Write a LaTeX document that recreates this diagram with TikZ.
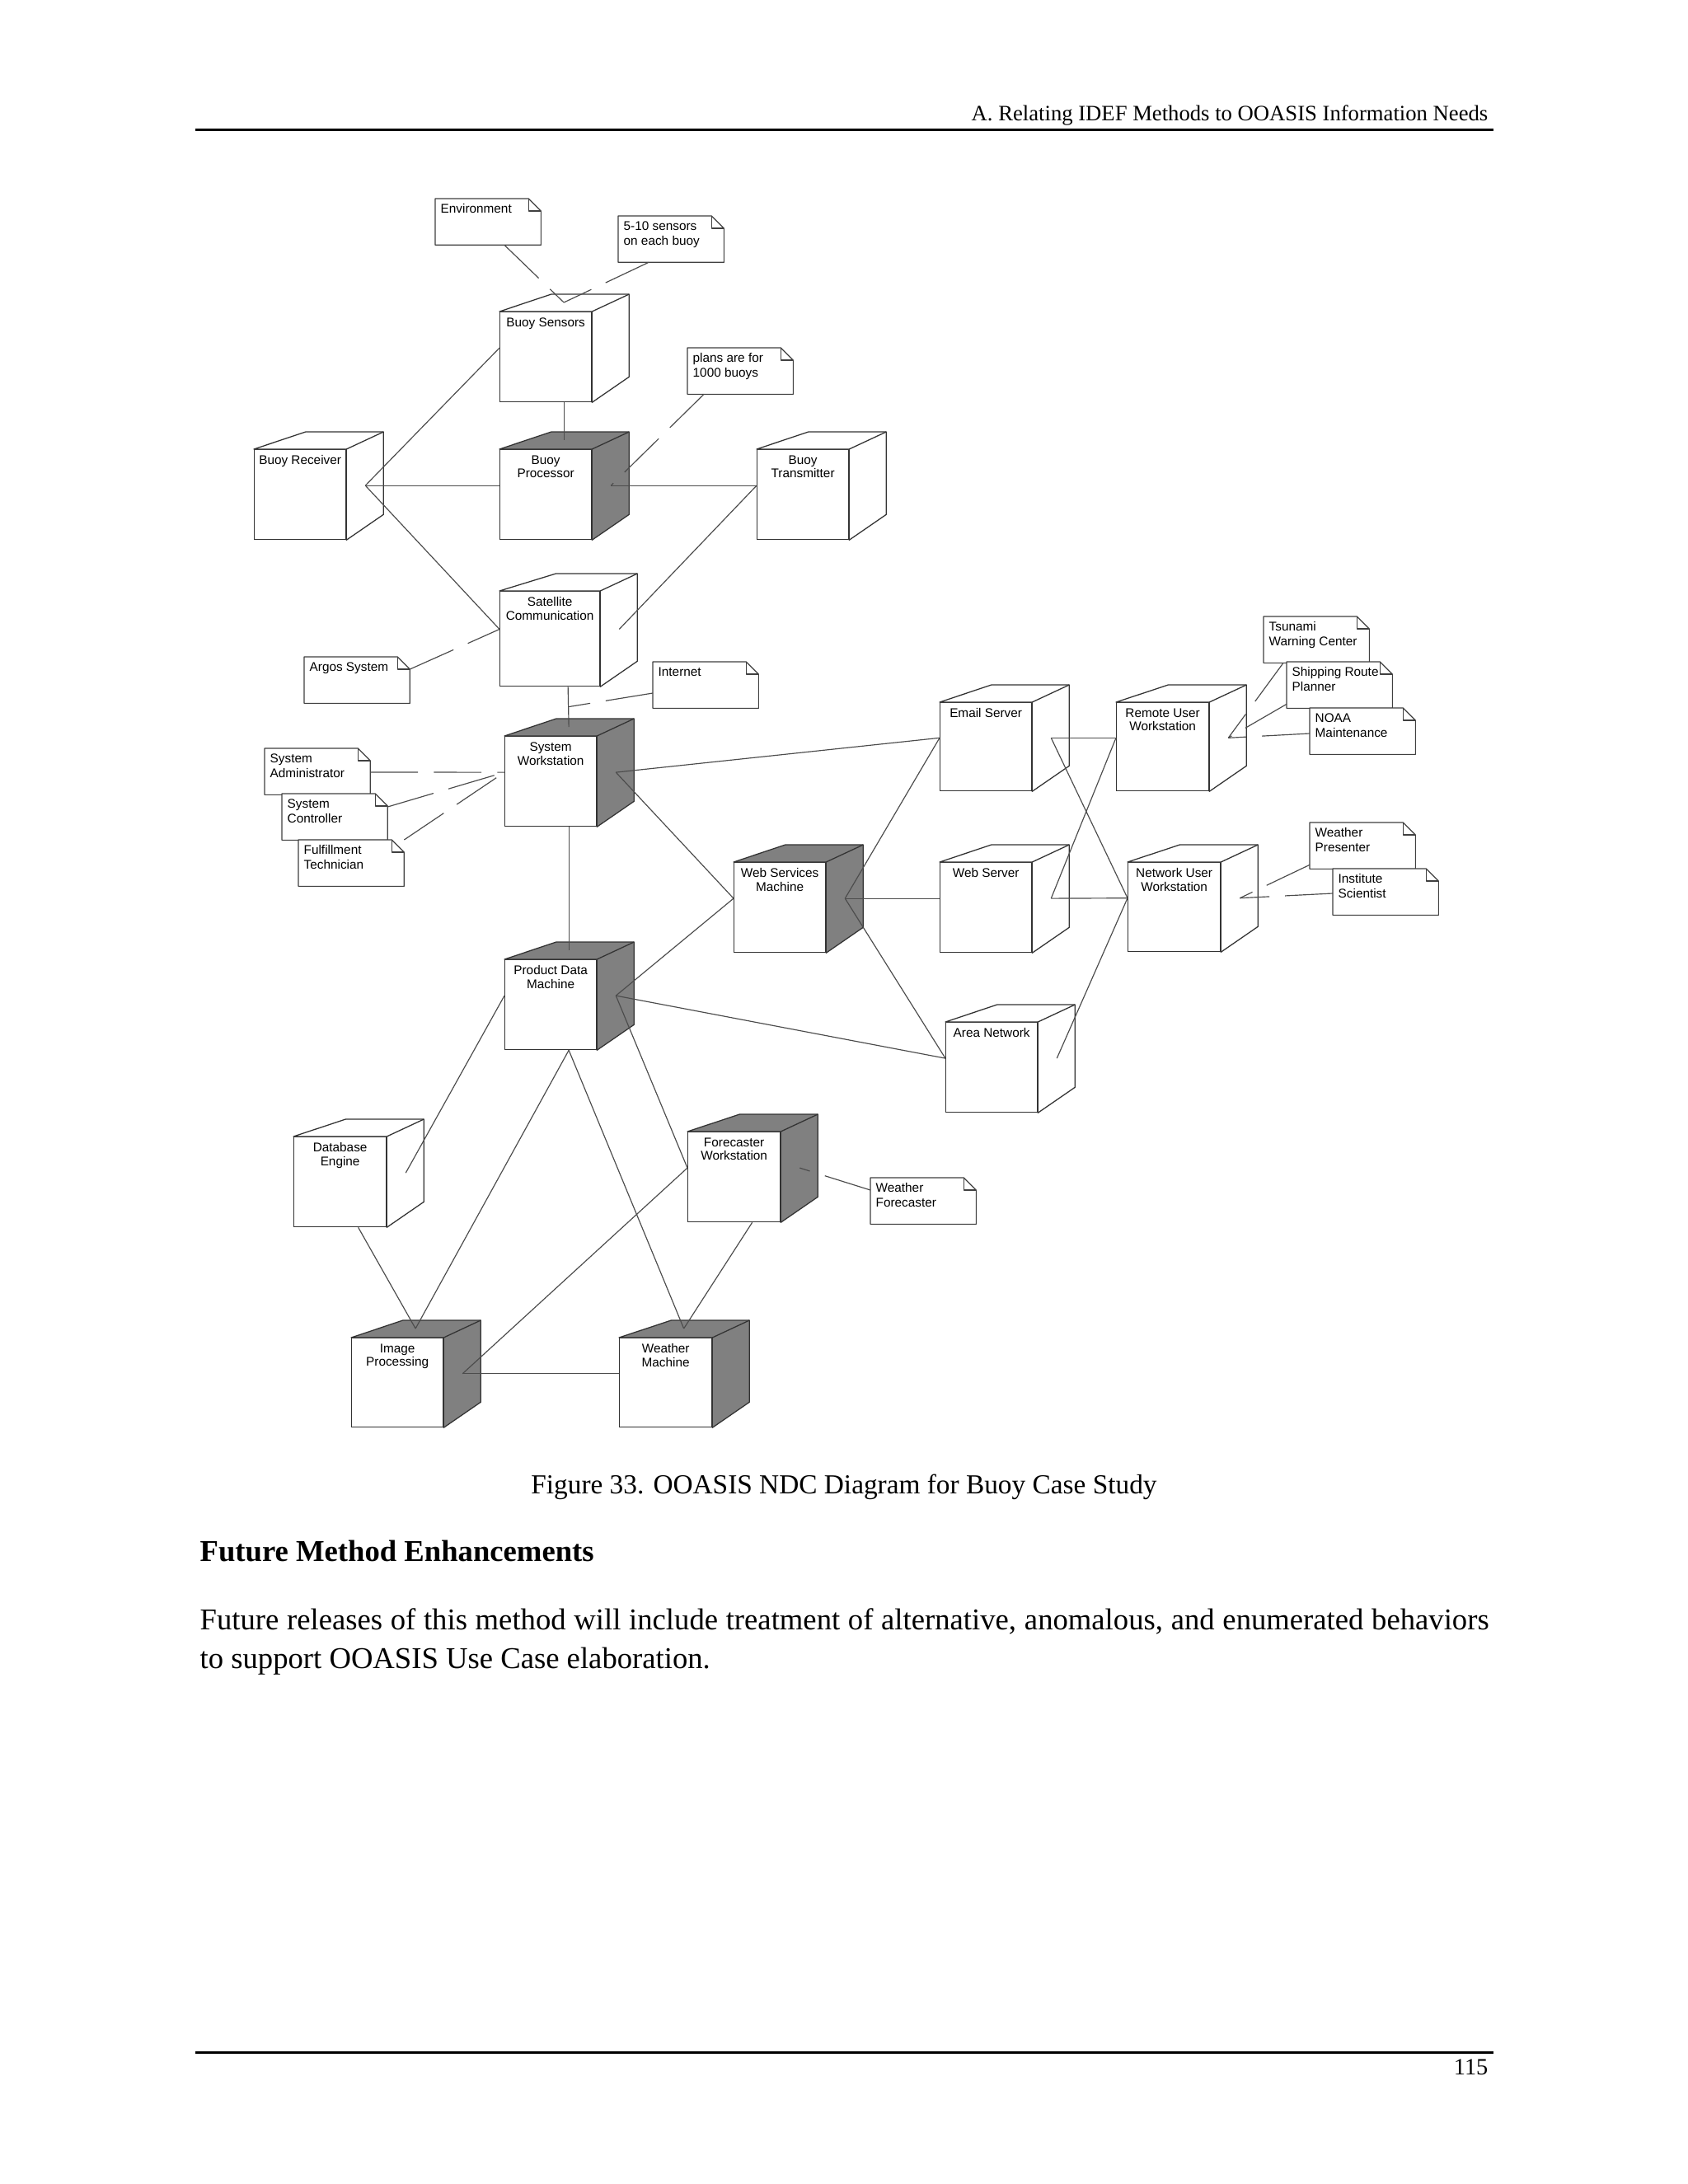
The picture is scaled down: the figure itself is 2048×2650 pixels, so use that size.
\documentclass[tikz,border=0pt]{standalone}
\usepackage{fontspec}
\setmainfont{Liberation Serif}
\newfontfamily\arialfont{Liberation Sans}
\usetikzlibrary{positioning, calc}

\begin{document}
\begin{tikzpicture}[
    x=0.29887bp, y=-0.29887bp,
    front/.style={rectangle, draw=black!80, line width=0.38bp, fill=white, anchor=north west, inner sep=0pt},
    face/.style={draw=black!80, line width=0.38bp, line join=round},
    cubetext/.style={inner sep=0pt, align=center, font=\arialfont\fontsize{4.6}{5}\selectfont},
    notebox/.style={rectangle, anchor=north west, inner sep=0pt, minimum width=37.96bp, minimum height=16.44bp},
    noteedge/.style={draw=black!75, line width=0.36bp, fill=white, line join=round},
    notetext/.style={inner sep=0pt, align=left, font=\arialfont\fontsize{4.6}{5.3}\selectfont},
    link/.style={draw=black!70, line width=0.35bp},
    noteline/.style={draw=black!70, line width=0.35bp, dash pattern=on 17.3bp off 5.7bp}
]
\fill[white] (0,0) rectangle (2048,2650);
\useasboundingbox (0,0) rectangle (2048,2650);

\node[anchor=base east, inner sep=0pt, font=\fontsize{8}{9.6}\selectfont] (head) at (1806,146) {A. Relating IDEF Methods to OOASIS Information Needs};
\draw[line width=0.9bp] (237,157) -- (1812,157);

\foreach \n/\x/\y/\cw/\ch/\lbl/\fc in {
    BS/606/378/111/109/{Buoy Sensors}/white,
    BR/308/545/111/109/{Buoy Receiver}/white,
    BP/606/545/111/109/{Buoy\\Processor}/black!50,
    BT/918/545/111/109/{Buoy\\Transmitter}/white,
    SC/606/717/121/115/{Satellite\\Communication}/white,
    SW/612/893/111/109/{System\\Workstation}/black!50,
    WS/890/1046/111/109/{Web Services\\Machine}/black!50,
    PD/612/1164/111/109/{Product Data\\Machine}/black!50,
    ES/1140/852/111/107/{Email Server}/white,
    RU/1354/852/112/107/{Remote User\\Workstation}/white,
    WB/1140/1046/111/109/{Web Server}/white,
    NU/1368/1046/112/108/{Network User\\Workstation}/white,
    AN/1147/1240/111/109/{Area Network}/white,
    DB/356/1379/112/109/{Database\\Engine}/white,
    FW/834/1373/112/109/{Forecaster\\Workstation}/black!50,
    IP/426/1623/111/108/{Image\\Processing}/black!50,
    WM/751/1623/112/108/{Weather\\Machine}/black!50} {
    \node[front, minimum width=\cw*0.29887bp, minimum height=\ch*0.29887bp] (\n) at (\x,\y) {};
    \filldraw[face, fill=\fc] (\n.north west) -- ($(\n.north west)!0.56!(\n.north east)+(0,-21)$)
        -- ($(\n.north east)+(45,-21)$) -- ($(\n.south east)+(45,-31)$) -- (\n.south east) -- (\n.north east) -- cycle;
    \draw[face] (\n.north east) -- ($(\n.north east)+(45,-21)$);
    \node[cubetext, below=2.1bp of \n.north] (\n-txt) {\lbl};
    \coordinate (\n-l) at ($(\n.north west)!0.4!(\n.south west)$);
    \coordinate (\n-h) at ($(\n.north east)!0.4!(\n.south east)+(23,0)$);
    \coordinate (\n-t) at ($(\n.north west)!0.5!(\n.north east)+(22,-11)$);
    \coordinate (\n-b) at ($(\n.south west)!0.5!(\n.south east)+(22,0)$);
}

\foreach \n/\x/\y/\lbl in {
    env/528/241/Environment,
    sens/750/262/{5-10 sensors\\on each buoy},
    plans/834/422/{plans are for\\1000 buoys},
    argos/369/797/{Argos System},
    inet/792/803/Internet,
    admin/321/908/{System\\Administrator},
    ctrl/342/963/{System\\Controller},
    fulf/362/1019/{Fulfillment\\Technician},
    tsu/1533/748/{Tsunami\\Warning Center},
    ship/1561/803/{Shipping Route\\Planner},
    noaa/1589/859/{NOAA\\Maintenance},
    wpres/1589/998/{Weather\\Presenter},
    inst/1617/1054/{Institute\\Scientist},
    wfc/1056/1429/{Weather\\Forecaster}} {
    \node[notebox] (\n) at (\x,\y) {};
    \filldraw[noteedge] (\n.north west) -- ($(\n.north east)+(-15,0)$) -- ($(\n.north east)+(0,15)$)
        -- (\n.south east) -- (\n.south west) -- cycle;
    \draw[noteedge, fill=none] ($(\n.north east)+(-15,0)$) |- ($(\n.north east)+(0,15)$);
    \node[notetext, below right=1.8bp and 1.8bp of \n.north west] (\n-txt) {\lbl};
}

\foreach \a/\b in {BR-h/BS-l, BR-h/BP-l, BR-h/SC-l, BS-b/BP-t, BP-h/BT-l, BT-l/SC-h,
    SC-b/SW-t, SW-b/PD-t, SW-h/ES-l, SW-h/WS-l, WS-l/PD-h, WS-h/ES-l, WS-h/WB-l,
    WS-h/AN-l, PD-h/AN-l, ES-h/RU-l, ES-h/NU-l, WB-h/RU-l, WB-h/NU-l, NU-l/AN-h,
    PD-l/DB-h, PD-h/FW-l, PD-b/IP-t, PD-b/WM-t, DB-b/IP-t, FW-l/IP-h, IP-h/WM-l, FW-b/WM-t}
    \draw[link] (\a) -- (\b);

\coordinate (inet-end) at ($(SC-b)!0.5!(SW-t)$);
\draw[noteline] ($(env.south west)+(84,0)$) -- (BS-t);
\draw[noteline] ($(sens.south west)+(37,0)$) -- (BS-t);
\draw[noteline] ($(plans.south west)+(20,0)$) -- (BP-h);
\draw[noteline] ($(argos.north east)+(0,15)$) -- (SC-l);
\draw[noteline] ($(inet.north west)+(0,38)$) -- (inet-end);
\draw[noteline] ($(admin.north east)+(0,29)$) -- (SW-l);
\draw[noteline] ($(ctrl.north east)+(0,16)$) -- (SW-l);
\draw[noteline] (fulf.north east) -- (SW-l);
\draw[noteline] ($(tsu.south west)+(24,0)$) -- (RU-h);
\draw[noteline] ($(ship.south west)+(0,-5)$) -- (RU-h);
\draw[noteline] ($(noaa.north west)+(0,31)$) -- (RU-h);
\draw[noteline] ($(wpres.south west)+(0,-5)$) -- (NU-h);
\draw[noteline] ($(inst.north west)+(0,30)$) -- (NU-h);
\draw[noteline] ($(wfc.north west)+(0,15)$) -- (FW-h);

\node[anchor=base, inner sep=0pt, font=\fontsize{10}{12}\selectfont] (caption) at (1024,1812) {Figure 33. OOASIS NDC Diagram for Buoy Case Study};
\node[anchor=base west, inner sep=0pt, font=\fontsize{11}{13}\selectfont\bfseries] (heading) at (242,1894) {Future Method Enhancements};
\node[anchor=base west, inner sep=0pt, font=\fontsize{11}{13}\selectfont] (para1) at (242,1977) {\makebox[467.4bp][s]{Future releases of this method will include treatment of alternative, anomalous, and enumerated behaviors}};
\node[anchor=base west, inner sep=0pt, font=\fontsize{11}{13}\selectfont] (para2) at (242,2024) {to support OOASIS Use Case elaboration.};

\draw[line width=0.9bp] (237,2490) -- (1812,2490);
\node[anchor=base east, inner sep=0pt, font=\fontsize{8.5}{10}\selectfont] (pageno) at (1806,2517) {115};
\end{tikzpicture}
\end{document}
